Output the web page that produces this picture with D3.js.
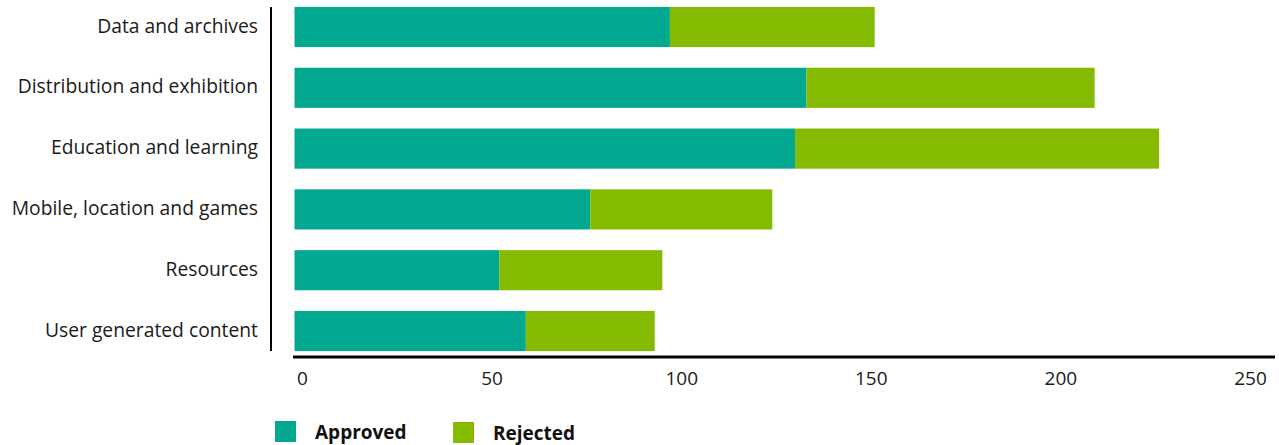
<!DOCTYPE html>
<html>
<head>
<meta charset="utf-8">
<script src="https://cdn.jsdelivr.net/npm/d3@7"></script>
<style>
  html, body { margin: 0; padding: 0; background: #fff; }
  svg { display: block; font-family: "Open Sans", "Noto Sans", sans-serif; }
</style>
</head>
<body>
<svg id="chart" width="1279" height="445"></svg>
<script>
// Project applications by strand
const categories = [
  "Data and archives",
  "Distribution and exhibition",
  "Education and learning",
  "Mobile, location and games",
  "Resources",
  "User generated content"
];
const approved = [99, 135, 132, 78, 54, 61];
const rejected = [54, 76, 96, 48, 43, 34];
const seriesNames = ["Approved", "Rejected"];
const seriesColors = ["#02a88f", "#84bb00"];
const xTicks = [0, 50, 100, 150, 200, 250];

const svg = d3.select("#chart");

const x = d3.scaleLinear().domain([0, 250]).range([294.5, 1242.5]);
const y = d3.scaleBand()
  .domain(categories)
  .range([-3.4, 361.4])
  .paddingInner(0.34)
  .paddingOuter(0.17);

const rows = categories.map((c, i) => ({ cat: c, Approved: approved[i], Rejected: rejected[i] }));
const stacked = d3.stack().keys(seriesNames)(rows);

// Stacked bars
svg.append("g")
  .selectAll("g")
  .data(stacked)
  .join("g")
  .attr("fill", (d, i) => seriesColors[i])
  .selectAll("rect")
  .data(d => d)
  .join("rect")
  .attr("x", d => x(d[0]))
  .attr("y", d => y(d.data.cat))
  .attr("width", d => x(d[1]) - x(d[0]))
  .attr("height", y.bandwidth());

// Category labels
svg.append("g")
  .selectAll("text")
  .data(categories)
  .join("text")
  .attr("x", 258)
  .attr("y", d => y(d) + y.bandwidth() / 2 - 2)
  .attr("text-anchor", "end")
  .attr("dominant-baseline", "central")
  .attr("font-size", 19.3)
  .attr("fill", "#1a1a1a")
  .text(d => d);

// Vertical axis line
svg.append("line")
  .attr("x1", 271).attr("x2", 271)
  .attr("y1", y(categories[0])).attr("y2", y(categories[categories.length - 1]) + y.bandwidth())
  .attr("stroke", "#000").attr("stroke-width", 2);

// Horizontal axis
const xAxis = svg.append("g")
  .attr("transform", "translate(0,357)")
  .call(d3.axisBottom(x).tickValues(xTicks).tickSize(0).tickPadding(0).tickFormat(d3.format("d")));
xAxis.select(".domain")
  .attr("d", `M${x(0) - 1.5},0H1275`)
  .attr("stroke", "#000")
  .attr("stroke-width", 3);
xAxis.selectAll(".tick text")
  .attr("dx", 7.5)
  .attr("y", 15)
  .attr("dy", "0.71em")
  .attr("font-size", 19)
  .attr("font-family", "\"Open Sans\", \"Noto Sans\", sans-serif")
  .attr("fill", "#1a1a1a");

// Legend
const legendX = [275, 453];
const legend = svg.append("g")
  .selectAll("g")
  .data(seriesNames)
  .join("g")
  .attr("transform", (d, i) => `translate(${legendX[i]},${421 + i})`);
legend.append("rect")
  .attr("width", 21).attr("height", 21)
  .attr("fill", (d, i) => seriesColors[i]);
legend.append("text")
  .attr("x", 40)
  .attr("y", 10.5)
  .attr("dominant-baseline", "central")
  .attr("font-size", 19)
  .attr("font-weight", "bold")
  .attr("fill", "#111")
  .text(d => d);
</script>
</body>
</html>
